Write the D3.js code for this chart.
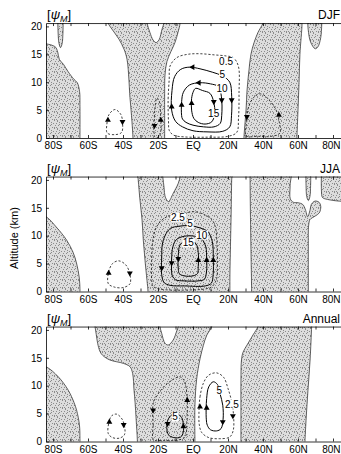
<!DOCTYPE html>
<html>
<head>
<meta charset="utf-8">
<script src="https://cdn.jsdelivr.net/npm/d3@7"></script>
<style>
  body { margin: 0; background: #fff; }
  text { font-family: "Liberation Sans Narrow", "Arial Narrow", "Liberation Sans", Arial, sans-serif; }
</style>
</head>
<body>
<div id="chart"></div>
<script>
// ---- data (latitude in degrees, altitude in km) ----
const seasons = ["DJF", "JJA", "Annual"];
const latTicks = [-80, -60, -40, -20, 0, 20, 40, 60, 80];
const latMinorTicks = [-80, -70, -60, -50, -40, -30, -20, -10, 0, 10, 20, 30, 40, 50, 60, 70, 80];
const altTicks = [0, 5, 10, 15, 20];

// DJF
const djfShaded = [
  [[-90,-1],[-90,16.5],[-79,16.4],[-77.3,15.4],[-76.4,14.1],[-74,13.2],[-71.4,11.9],[-68,10.5],[-66.1,9.9],[-64.8,8.3],[-64.6,6],[-64.6,-1]],
  [[-77.3,22],[-77.1,19],[-76.6,17],[-75.7,16.2],[-74.8,16.9],[-74.3,19],[-74.2,22]],
  [[-34.3,-1],[-34.3,0],[-34.9,3],[-35.4,5],[-36.2,8],[-36.6,10.4],[-37.7,14.1],[-39.4,15.9],[-42.3,17.7],[-46.3,19.5],[-48.6,20.6],[-50,22],[-27,22],[-26.3,20.6],[-24.6,18.9],[-22.9,17.6],[-21.1,17.1],[-19.4,17.6],[-17.7,19.5],[-16.6,20.6],[-16,22],[-8,22],[-7.4,20.6],[-8.6,18.9],[-10.3,17.1],[-12.6,15.5],[-14.9,13.7],[-16,11.3],[-16.2,8],[-16.2,4],[-16.2,0],[-16.2,-1]],
  [[29.1,-1],[29.1,0],[30.3,5],[30.9,8.6],[32,12.2],[33.1,15],[34.9,17.1],[37.1,18.9],[40,20.6],[41,22],[62,22],[62.3,20.6],[61.1,15],[60.6,10],[60,5],[59.4,0],[59.4,-1]],
  [[65.5,22],[65.8,19.5],[67.2,17.2],[69.8,16],[71.3,16.3],[73,18],[73.7,22]]
];
const djfDashed = [
  [[-14,3],[-14.2,7],[-13.6,10.5],[-13.1,12.9],[-9.3,14.4],[-3,15],[4,15.1],[12,14.9],[19,14.7],[23,14.4],[25.9,12.9],[26.3,8],[26,3.5],[25,1],[20,0.3],[8,0.15],[-5,0.2],[-11,0.5],[-13.5,1.3]],
  [[-49,0.9],[-49.2,2.5],[-48,4.2],[-44.6,5.1],[-41.2,4.2],[-40.2,2.5],[-40.8,1],[-44.6,0.6]],
  [[-21.8,0.2],[-22.1,3],[-21.7,5.5],[-20.6,7.2],[-19.2,6.5],[-18.5,4],[-18.3,1.5],[-19.5,0.2]],
  [[30.5,0.4],[30.7,3],[31.8,5.6],[34.5,7.2],[37.5,7.9],[40.5,7.7],[44,6.6],[47.5,5],[49.2,3],[49.6,0.9],[45,0.3],[37,0.3]]
];
const djfSolid = [
  [[-12.2,5],[-12,8.5],[-10.5,11],[-7,12.3],[-2,12.7],[4,12.4],[11,11.8],[17,11.1],[21,10],[22.1,7.5],[22,4],[21,2],[17,1.2],[8,1.1],[0,1.3],[-6,2],[-10,3]],
  [[-6.5,4],[-6.5,6.5],[-5.5,8.2],[-2,9.5],[4,9.9],[10,9.7],[14.5,9.2],[16.2,7.5],[16.4,4],[15.5,2.6],[12,2],[6,2],[0,2.3],[-4,2.8],[-6,3.4]],
  [[-0.8,5],[-0.8,7.1],[0.3,8.4],[1.5,8.9],[5.5,8.5],[9.7,8],[11.8,6.5],[12.4,4.4],[10.7,2.9],[6.9,2.5],[3,2.8],[0.5,3.5]]
];
const djfLabels = [[18.9,13.7,"0.5"],[16.7,11.4,"5"],[16.6,8.8,"10"],[11.8,4.4,"15"]];
const djfArrows = [[-0.2,12.7,"l"],[-12.2,5.6,"u"],[22.1,6.8,"d"],[3.4,9.9,"l"],[-6.5,5.9,"u"],[16.4,6.8,"d"],[-0.8,6.2,"u"],[11.9,6.5,"d"],[-48.6,3.2,"u"],[-40.3,2.9,"d"],[-22,2.2,"d"],[-18.4,3.2,"u"],[30.8,3.8,"d"],[49.1,4.1,"u"]];

// JJA
const jjaShaded = [
  [[-90,-1],[-90,13.8],[-84,13.4],[-78,11.5],[-72.2,9.2],[-68.5,7],[-66.5,5],[-65,2.5],[-64.6,0.5],[-64.6,-1]],
  [[-25.7,-1],[-25.7,0],[-26.3,2],[-27.4,5.5],[-28.4,9.2],[-29.1,12.8],[-30.3,16.4],[-31.3,20],[-31.8,22],[-18,22],[-17.3,20.6],[-16.5,18.5],[-16,17.1],[-14.1,16.1],[-11.3,17.6],[-8.4,19.4],[-7.4,20.6],[-7,22],[22.3,22],[22.1,20],[21.8,14],[21.4,8],[21.1,3],[21.1,-1]],
  [[33.5,-1],[33.5,0],[33.2,6],[32.9,12],[32.7,17],[32.6,20.6],[32.5,22],[55.4,22],[55.5,19],[55.6,16.6],[57.3,16],[60.2,15.9],[62.7,15.6],[64.2,14.7],[65.5,13.4],[66.9,14.6],[67.6,15.6],[69.7,16.2],[72,16],[73,15.3],[72.2,14.1],[69.7,13.5],[66.9,12.9],[66.1,11.9],[65.9,8],[65.9,0],[65.9,-1]],
  [[64.5,22],[64.6,19],[65,17],[65.9,16.3],[66.8,17],[67.2,19],[67.3,22]],
  [[73.4,22],[73.4,18],[73.9,16.9],[75.5,16.6],[92,16.6],[92,22]]
];
const jjaDashed = [
  [[-23.6,2],[-23.6,6],[-23,9],[-20.8,11.6],[-17,13],[-13,13.6],[-4,14.1],[1,14.3],[7,13.7],[11,12.8],[12.8,11.5],[13.8,8],[13.9,5],[13.5,2.3],[11,0.9],[7.8,0.5],[0,0.3],[-15,0.3],[-21,0.6],[-23,1]],
  [[-48.4,1.4],[-48.2,3.5],[-46,5],[-42.5,5.5],[-38.5,4.8],[-36.2,3.3],[-36,1.4],[-40,0.7],[-45,0.8]]
];
const jjaSolid = [
  [[-17.9,3],[-17.9,6],[-17.5,8.5],[-16,10],[-13,11.3],[-8,11.7],[-2,11.8],[4,11.4],[8.5,10.7],[11,9],[11.6,6],[11.5,3],[10.5,1.5],[7,1],[-5,1],[-13,1.1],[-16.5,1.6]],
  [[-12.2,3.5],[-12.2,6],[-11.5,8],[-9.5,9.3],[-5,9.9],[1,9.9],[5,9.4],[7.3,8],[7.8,6],[7.7,3.5],[6.5,2.2],[3,1.9],[-5,1.9],[-10,2.1],[-11.8,2.8]],
  [[-8.4,4],[-8.4,6.5],[-7.5,8.3],[-5,9],[-1,9],[1.8,8.5],[3,7],[3,4.5],[2.5,3.2],[0,2.8],[-5,2.8],[-7.8,3.2]]
];
const jjaLabels = [[-8.6,13.3,"2.5"],[-1.7,12.1,"5"],[5,10.1,"10"],[-2.7,8.7,"15"]];
const jjaArrows = [[-17.9,4.2,"d"],[11.6,5.6,"u"],[-12.2,5.1,"d"],[7.8,5.6,"u"],[-8.4,5.9,"d"],[3,5.6,"u"],[-48.2,3.3,"u"],[-36.1,3.3,"d"]];

// Annual
const annShaded = [
  [[-90,-1],[-90,13.8],[-84,13.4],[-77,11.6],[-71.3,9.2],[-68,7],[-66.5,5.6],[-64.9,3],[-64.6,0.5],[-64.6,-1]],
  [[-31.8,-1],[-31.8,0.2],[-32.5,4],[-33.1,7],[-33.7,9.2],[-34.5,12.2],[-36,13.4],[-39.8,14],[-47.4,14.6],[-51.5,15.4],[-53.1,16.1],[-54.5,17.6],[-55.3,19.2],[-56,20.6],[-56.5,22],[-19.5,22],[-18.9,20.6],[-17.9,19.4],[-16,17.6],[-14.1,17.3],[-11.3,18.2],[-9.3,19.8],[-8.4,20.6],[-8,22],[11,22],[10.7,20.6],[7.8,19],[5.9,17.2],[4,14.8],[2.1,11.2],[1.1,6.4],[1.1,0],[1.1,-1]],
  [[27.4,-1],[27.4,0],[27.4,6],[27.4,11],[27.7,14.6],[28.6,16],[30.9,17.3],[34.3,19.1],[37.1,20.6],[38,22],[68,22],[67.8,20.6],[66.9,14.6],[65.7,9.2],[64.6,3.8],[64,0],[64,-1]]
];
const annDashed = [
  [[-48.4,1.4],[-48.2,3.2],[-46.5,4.6],[-43.6,4.9],[-40.5,4],[-39,2.5],[-39.2,1.2],[-42,0.6],[-46,0.7]],
  [[-22.5,0.3],[-22.8,3],[-22.7,6.8],[-20,8.5],[-16,10],[-11,11.2],[-7.4,11.6],[-5,10.9],[-4,9.8],[-3.3,7.4],[-3.3,5],[-3.6,3],[-4.5,0.8],[-10,0.2],[-17,0.2]],
  [[3.4,5],[4,8],[6,10.5],[9,11.9],[13.5,12.3],[17.5,11.5],[20,9.5],[22.2,7],[23.2,4.5],[23,2],[21,0.8],[15,0.5],[9,0.7],[5,1.6],[3.6,3]]
];
const annSolid = [
  [[-15,2.5],[-14.3,3.9],[-12,4.8],[-9,4.9],[-6.5,4.3],[-5.5,3],[-5.6,1.6],[-7,0.8],[-11,0.7],[-14,1.2]],
  [[7.6,4],[7.8,7.7],[9,9.8],[11.6,10.7],[14,10.2],[15.5,8.5],[17,6.5],[17.2,4],[16,2.3],[13.5,1.9],[10,2.1],[8.2,2.9]]
];
const annLabels = [[-10.3,4.4,"5"],[15,9.2,"5"],[22.2,6.7,"2.5"]];
const annArrows = [[-47.8,3.5,"u"],[-39.6,3,"d"],[-22.8,5.6,"d"],[-3.3,7.4,"u"],[-14.5,3.2,"d"],[-5.5,2.7,"u"],[4,6.2,"u"],[22.8,4.6,"d"],[7.8,6,"u"],[17,3.5,"d"]];

// ---- layout ----
const W = 341, H = 454;
const left = 46, kmPx = 5.58, altMax = 20.6;
const panelBottoms = [138, 291.5, 441.5];

const panels = [
  { shaded: djfShaded, dashed: djfDashed, solid: djfSolid, labels: djfLabels, arrows: djfArrows },
  { shaded: jjaShaded, dashed: jjaDashed, solid: jjaSolid, labels: jjaLabels, arrows: jjaArrows },
  { shaded: annShaded, dashed: annDashed, solid: annSolid, labels: annLabels, arrows: annArrows }
];

const svg = d3.select("#chart").append("svg")
  .attr("width", W)
  .attr("height", H);

const defs = svg.append("defs");

// stipple fill for the shaded areas
const pat = defs.append("pattern")
  .attr("id", "stip")
  .attr("width", 8).attr("height", 8)
  .attr("patternUnits", "userSpaceOnUse");
pat.append("rect").attr("width", 8).attr("height", 8).attr("fill", "#dddddd");
[[1,0],[6,0],[3,2],[0,3],[5,3],[7,5],[2,5],[4,7],[0,7],[6,7],[3,4],[1,1]].forEach(([a, b]) => {
  pat.append("rect").attr("x", a).attr("y", b).attr("width", 1).attr("height", 1).attr("fill", "#8c8c8c");
});

const x = d3.scaleLinear().domain([-84, 90]).range([left, left + 174 * 1.75]);

const latFmt = d => d === 0 ? "EQ" : Math.abs(d) + (d < 0 ? "S" : "N");
const dirAngle = { u: 0, d: 180, l: -90, r: 90 };

panels.forEach((p, i) => {
  const y0 = panelBottoms[i];
  const y = d3.scaleLinear().domain([0, altMax]).range([y0, y0 - altMax * kmPx]);

  defs.append("clipPath").attr("id", "clip" + i)
    .append("rect")
    .attr("x", left).attr("y", y(altMax))
    .attr("width", x(90) - left).attr("height", y(0) - y(altMax));

  const g = svg.append("g");
  const plot = g.append("g").attr("clip-path", `url(#clip${i})`);

  const openLine = d3.line().x(d => x(d[0])).y(d => y(d[1])).curve(d3.curveCatmullRom.alpha(0.5));
  const loopLine = d3.line().x(d => x(d[0])).y(d => y(d[1])).curve(d3.curveCatmullRomClosed.alpha(0.5));

  // shaded regions
  plot.selectAll(".shade")
    .data(p.shaded)
    .enter()
    .append("path")
    .attr("class", "shade")
    .attr("d", d => openLine(d) + "Z")
    .attr("fill", "url(#stip)")
    .attr("stroke", "#222")
    .attr("stroke-width", 0.7);

  // dashed contours
  plot.selectAll(".dash")
    .data(p.dashed)
    .enter()
    .append("path")
    .attr("class", "dash")
    .attr("d", loopLine)
    .attr("fill", "none")
    .attr("stroke", "#111")
    .attr("stroke-width", 0.8)
    .attr("stroke-dasharray", "2.2,1.8");

  // solid contours
  plot.selectAll(".solid")
    .data(p.solid)
    .enter()
    .append("path")
    .attr("class", "solid")
    .attr("d", loopLine)
    .attr("fill", "none")
    .attr("stroke", "#000")
    .attr("stroke-width", 1);

  // contour labels with a white box that breaks the line
  p.labels.forEach(l => {
    const lg = plot.append("g");
    const t = lg.append("text")
      .attr("x", x(l[0])).attr("y", y(l[1]))
      .attr("dy", "0.35em")
      .attr("text-anchor", "middle")
      .attr("font-size", 10)
      .text(l[2]);
    const bb = t.node().getBBox();
    lg.insert("rect", "text")
      .attr("x", bb.x - 0.5).attr("y", bb.y + 1)
      .attr("width", bb.width + 1).attr("height", bb.height - 2)
      .attr("fill", "#fff");
  });

  // flow arrows
  plot.selectAll(".arrow")
    .data(p.arrows)
    .enter()
    .append("path")
    .attr("class", "arrow")
    .attr("d", d3.symbol().type(d3.symbolTriangle).size(15))
    .attr("transform", d => `translate(${x(d[0])},${y(d[1])}) rotate(${dirAngle[d[2]]})`)
    .attr("fill", "#000");

  // axes
  const yAxis = g.append("g")
    .attr("transform", `translate(${left},0)`)
    .call(d3.axisLeft(y).tickValues(altTicks).tickSizeInner(-3).tickSizeOuter(0).tickPadding(4));

  const xAxis = g.append("g")
    .attr("transform", `translate(0,${y(0)})`)
    .call(d3.axisBottom(x).tickValues(latMinorTicks).tickSizeInner(-3).tickSizeOuter(0).tickPadding(4)
      .tickFormat(d => latTicks.includes(d) ? latFmt(d) : ""));

  const topAxis = g.append("g")
    .attr("transform", `translate(0,${y(altMax)})`)
    .call(d3.axisTop(x).tickValues(latMinorTicks).tickSizeInner(-3).tickSizeOuter(0).tickFormat(""));

  [yAxis, xAxis, topAxis].forEach(a => {
    a.selectAll("path, line").attr("stroke", "#000").attr("stroke-width", 0.8);
    a.selectAll("text").attr("font-size", 10).attr("fill", "#000");
  });
  // keep the last latitude label inside the window
  xAxis.selectAll(".tick text").filter(d => d === 80).attr("text-anchor", "end").attr("dx", "7px");

  // panel header
  const head = g.append("text")
    .attr("x", left + 1).attr("y", y(altMax) - 4)
    .attr("font-size", 13);
  head.append("tspan").text("[");
  head.append("tspan").attr("font-style", "italic").text("\u03C8");
  head.append("tspan").attr("font-style", "italic").attr("font-size", 9).attr("dy", 3).text("M");
  head.append("tspan").attr("dy", -3).text("]");

  g.append("text")
    .attr("x", 340).attr("y", y(altMax) - 4)
    .attr("text-anchor", "end")
    .attr("font-size", 12)
    .text(seasons[i]);
});

// y axis title
svg.append("text")
  .attr("transform", "translate(18,238) rotate(-90)")
  .attr("text-anchor", "middle")
  .attr("font-size", 11)
  .text("Altitude (km)");
</script>
</body>
</html>
